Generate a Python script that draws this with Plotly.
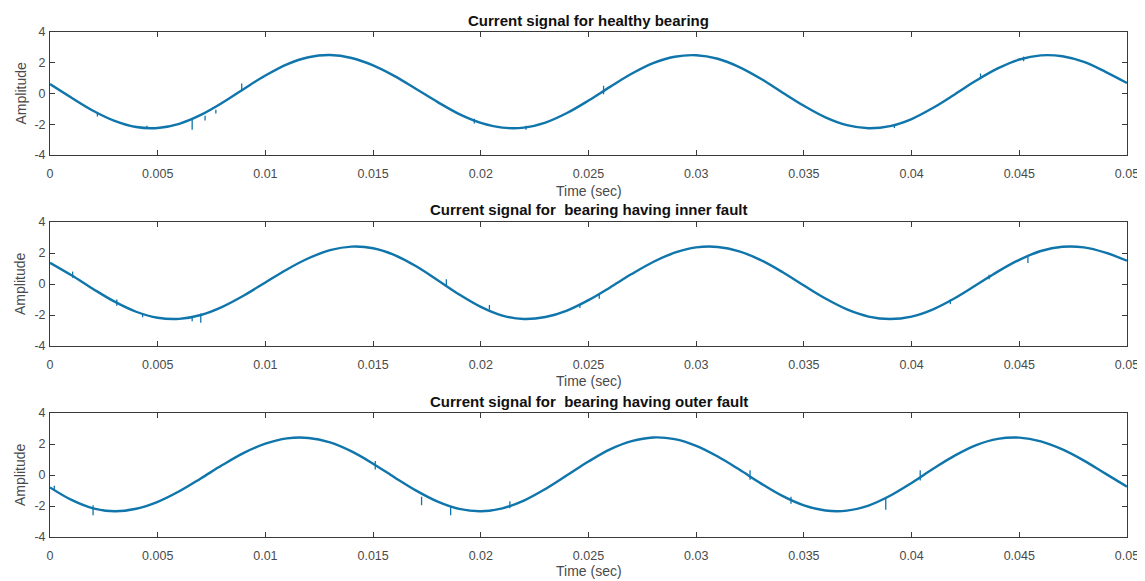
import plotly.graph_objects as go

# ---------------- data ----------------
time_s = [round(k * 0.001, 3) for k in range(51)]

healthy = [0.61, -0.28, -1.12, -1.78, -2.18, -2.24, -1.97, -1.39, -0.60, 0.30,
           1.17, 1.90, 2.36, 2.50, 2.31, 1.83, 1.13, 0.29, -0.56, -1.34,
           -1.91, -2.22, -2.22, -1.89, -1.27, -0.46, 0.43, 1.28, 1.97, 2.39,
           2.49, 2.26, 1.72, 0.96, 0.07, -0.80, -1.55, -2.06, -2.26, -2.12,
           -1.66, -0.93, -0.06, 0.84, 1.63, 2.21, 2.48, 2.42, 2.05, 1.41, 0.68]

inner_fault = [1.37, 0.56, -0.32, -1.14, -1.79, -2.18, -2.25, -2.00, -1.47, -0.74,
               0.10, 0.94, 1.66, 2.18, 2.41, 2.31, 1.87, 1.14, 0.24, -0.68,
               -1.48, -2.04, -2.26, -2.13, -1.71, -1.04, -0.22, 0.64, 1.42, 2.02,
               2.36, 2.39, 2.11, 1.54, 0.77, -0.10, -0.94, -1.64, -2.10, -2.26,
               -2.10, -1.63, -0.92, -0.07, 0.80, 1.56, 2.13, 2.40, 2.36, 2.02, 1.50]

outer_fault = [-0.80, -1.61, -2.15, -2.34, -2.18, -1.73, -1.05, -0.22, 0.64, 1.43,
               2.02, 2.36, 2.39, 2.10, 1.52, 0.73, -0.16, -1.01, -1.72, -2.19,
               -2.34, -2.15, -1.65, -0.90, -0.02, 0.87, 1.65, 2.18, 2.42, 2.31,
               1.88, 1.19, 0.35, -0.54, -1.35, -1.96, -2.29, -2.30, -1.97, -1.34,
               -0.51, 0.40, 1.25, 1.93, 2.33, 2.41, 2.17, 1.65, 0.93, 0.09, -0.75]

# noise spikes: (time, low, high)
healthy_spikes = [(0.0022, -1.50, -1.25), (0.0045, -2.30, -2.10), (0.0066, -2.35, -1.70),
                  (0.0072, -1.75, -1.45), (0.0077, -1.30, -1.05), (0.0089, 0.15, 0.65),
                  (0.0197, -1.95, -1.65), (0.0221, -2.35, -2.10), (0.0257, -0.05, 0.50),
                  (0.0392, -2.25, -2.05), (0.0432, 1.00, 1.30), (0.0452, 2.10, 2.40)]
inner_spikes = [(0.00105, 0.40, 0.80), (0.0031, -1.40, -1.00), (0.0043, -2.15, -1.90),
                (0.0066, -2.40, -2.15), (0.0070, -2.50, -1.90), (0.0184, -0.10, 0.30),
                (0.0204, -1.65, -1.35), (0.0246, -1.55, -1.30), (0.0255, -0.95, -0.65),
                (0.0418, -1.30, -1.00), (0.0436, 0.30, 0.60), (0.0454, 1.35, 1.75)]
outer_spikes = [(0.0002, -0.95, -0.70), (0.0020, -2.60, -1.95), (0.0151, 0.35, 0.90),
                (0.01725, -1.95, -1.40), (0.0186, -2.60, -2.00), (0.02135, -2.15, -1.70),
                (0.0325, -0.30, 0.30), (0.0344, -1.85, -1.40), (0.0388, -2.25, -1.50),
                (0.0404, -0.35, 0.30)]

titles = ["Current signal for healthy bearing",
          "Current signal for  bearing having inner fault",
          "Current signal for  bearing having outer fault"]
x_label = "Time (sec)"
y_label = "Amplitude"

x_ticks = [0, 0.005, 0.01, 0.015, 0.02, 0.025, 0.03, 0.035, 0.04, 0.045, 0.05]
x_tick_labels = ["0", "0.005", "0.01", "0.015", "0.02", "0.025", "0.03", "0.035", "0.04", "0.045", "0.05"]
y_ticks = [-4, -2, 0, 2, 4]
y_tick_labels = ["-4", "-2", "0", "2", "4"]

# ---------------- figure ----------------
OFF = 8                      # page body margin of the browser
W, H = 1145 - OFF, 581 - OFF
LINE = "#0f75ab"
AXC = "#3a3a3a"
TXT = "#4a4a4a"
FONT = "Liberation Sans, Arial, sans-serif"

# target pixel positions in the screenshot
boxes = [(32, 155), (222, 346), (413, 537)]
title_y = [20, 210, 401]
xlab_y = [191, 381, 571]
left_px, right_px = 50, 1127


def px_x(p):
    return (p - OFF) / W


def px_y(p):
    return 1 - (p - OFF) / H


series = [healthy, inner_fault, outer_fault]
spikes = [healthy_spikes, inner_spikes, outer_spikes]

fig = go.Figure()
layout = dict(template="none", width=W, height=H,
              margin=dict(l=0, r=0, t=0, b=0, pad=0, autoexpand=False),
              paper_bgcolor="white", plot_bgcolor="white", showlegend=False,
              font=dict(family=FONT, color=TXT, size=12))
annotations = []

for i in range(3):
    n = "" if i == 0 else str(i + 1)
    xa, ya = "x" + n, "y" + n
    fig.add_trace(go.Scatter(x=time_s, y=series[i], mode="lines", xaxis=xa, yaxis=ya,
                             line=dict(color=LINE, width=2.4, shape="spline", smoothing=1.0),
                             hoverinfo="skip"))
    sx, sy = [], []
    for (t, lo, hi) in spikes[i]:
        sx += [t, t, None]
        sy += [lo, hi, None]
    fig.add_trace(go.Scatter(x=sx, y=sy, mode="lines", xaxis=xa, yaxis=ya,
                             line=dict(color=LINE, width=1.3), hoverinfo="skip"))
    top, bot = boxes[i]
    common = dict(showline=True, linecolor=AXC, linewidth=1, mirror="ticks",
                  ticks="inside", ticklen=5, tickcolor=AXC, tickwidth=1,
                  showgrid=False, zeroline=False, automargin=False,
                  tickfont=dict(family=FONT, size=12.5, color=TXT))
    layout["xaxis" + n] = dict(common, domain=[px_x(left_px), px_x(right_px)], anchor=ya,
                                range=[0, 0.05], tickmode="array", ticklabelstandoff=7,
                                tickvals=x_ticks, ticktext=x_tick_labels)
    layout["yaxis" + n] = dict(common, domain=[px_y(bot), px_y(top)], anchor=xa,
                                range=[-4, 4], tickmode="array", ticklabelstandoff=1,
                                tickvals=y_ticks, ticktext=y_tick_labels)
    cx = px_x((left_px + right_px) / 2)
    annotations.append(dict(text="<b>" + titles[i] + "</b>", x=cx, y=px_y(title_y[i]),
                            xref="paper", yref="paper", xanchor="center", yanchor="middle",
                            showarrow=False, font=dict(family=FONT, size=15, color="#111111")))
    annotations.append(dict(text=x_label, x=cx, y=px_y(xlab_y[i]),
                            xref="paper", yref="paper", xanchor="center", yanchor="middle",
                            showarrow=False, font=dict(family=FONT, size=14, color=TXT)))
    annotations.append(dict(text=y_label, x=px_x(20), y=px_y((top + bot) / 2),
                            xref="paper", yref="paper", xanchor="center", yanchor="middle",
                            textangle=-90, showarrow=False,
                            font=dict(family=FONT, size=14, color=TXT)))

layout["annotations"] = annotations
fig.update_layout(**layout)
fig.write_html("out.html")
